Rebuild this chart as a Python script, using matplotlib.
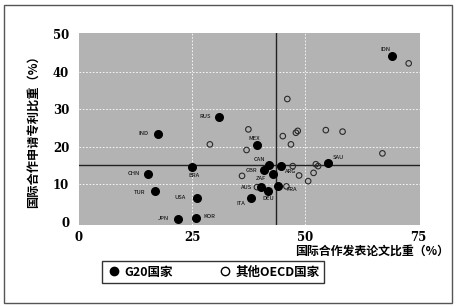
import matplotlib
matplotlib.use("Agg")
import matplotlib.pyplot as plt
from matplotlib.lines import Line2D
from matplotlib.patches import Rectangle

plt.rcParams['font.family'] = ['Noto Sans CJK SC', 'DejaVu Sans']

# G20 countries: (paper share %, patent share %)
g20_names = ["IDN", "RUS", "IND", "MEX", "CAN", "ARG", "SAU", "BRA", "CHN", "GBR",
             "ZAF", "TUR", "FRA", "AUS", "DEU", "USA", "ITA", "JPN", "KOR"]
g20_x = [69.2, 30.9, 17.5, 39.2, 42.0, 44.5, 54.9, 25.0, 15.2, 40.8,
         42.9, 16.8, 43.9, 40.1, 41.8, 26.0, 37.9, 21.9, 25.8]
g20_y = [44.3, 28.0, 23.4, 20.4, 15.0, 14.8, 15.6, 14.6, 12.8, 13.7,
         12.6, 8.2, 9.6, 9.2, 8.3, 6.4, 6.2, 0.7, 1.1]
# label offsets (points) for each G20 label
lab_dx = [-5, -10, -11, -2, -7, 7, 8, 1, -10, -9, -9, -11, 10, -10, 0, -12, -7, -11, 10]
lab_dy = [4, 0, 0, 5, 4, -4, 4, -6, 0, 0, -3, -1, -3, 0, -6, 0, -4, 0, 1]

# Other OECD countries
oecd_x = [28.9, 37.4, 37.0, 45.0, 46.0, 47.9, 48.3, 46.8, 54.5, 58.2, 67.0, 72.8,
          47.2, 52.3, 52.8, 48.6, 51.8, 50.6, 36.0, 45.8, 39.3]
oecd_y = [20.6, 24.6, 19.1, 22.8, 32.7, 23.7, 24.2, 20.6, 24.4, 24.0, 18.2, 42.2,
          14.8, 15.3, 14.8, 12.3, 13.0, 10.8, 12.2, 9.4, 9.2]

ref_x = 43.6
ref_y = 15.0

xticks = [0, 25, 50, 75]
yticks = [0, 10, 20, 30, 40, 50]

fig = plt.figure(figsize=(4.6, 3.07), dpi=100)
fig.patch.set_facecolor('white')
fig.add_artist(Rectangle((4/460, 1-303/307), 448/460, 298/307, transform=fig.transFigure,
                         fill=False, edgecolor='#555555', linewidth=1.0))

ax = fig.add_axes([79/460, 1-225/307, 341/460, 192/307])
ax.set_facecolor('#b3b3b3')
ax.set_xlim(0, 75.3)
ax.set_ylim(-0.9, 50.3)
for s in ax.spines.values():
    s.set_visible(False)

for gx in [25, 50]:
    ax.axvline(gx, color='white', lw=0.6, ls=(0, (2, 2)), zorder=1)
for gy in [10, 20, 30, 40]:
    ax.axhline(gy, color='white', lw=0.6, ls=(0, (2, 2)), zorder=1)

ax.axvline(ref_x, color='#222222', lw=1.0, zorder=2)
ax.axhline(ref_y, color='#222222', lw=1.0, zorder=2)

ax.scatter(oecd_x, oecd_y, s=16, facecolors='none', edgecolors='#2a2a2a', linewidths=0.8, zorder=3)
ax.scatter(g20_x, g20_y, s=30, color='black', zorder=4)
for n, x, y, dx, dy in zip(g20_names, g20_x, g20_y, lab_dx, lab_dy):
    ax.annotate(n, (x, y), xytext=(dx, dy), textcoords='offset points',
                ha='center', va='center', fontsize=4.2, color='black', zorder=5)

ax.set_xticks(xticks)
ax.set_yticks(yticks)
ax.tick_params(length=0, labelsize=8.5, pad=4)
ax.tick_params(axis='y', pad=7)
for t in ax.get_xticklabels() + ax.get_yticklabels():
    t.set_fontweight('bold')
    t.set_family(['DejaVu Serif'])

fig.text(449/460, 1-251/307, '国际合作发表论文比重（%）', ha='right', va='center',
         fontsize=8.6, fontweight='bold')
fig.text(33/460, 1-129/307, '国际合作申请专利比重（%）', ha='center', va='center',
         rotation=90, fontsize=8.8, fontweight='bold')

handles = [Line2D([], [], marker='o', ls='none', color='black', markersize=6),
           Line2D([], [], marker='o', ls='none', markerfacecolor='none',
                  markeredgecolor='black', markersize=6)]
leg = fig.legend(handles, ['G20国家', '其他OECD国家'], ncol=2, loc='center',
                 bbox_to_anchor=(213/460, 1-272/307), frameon=True, fancybox=False,
                 edgecolor='black', handletextpad=0.3, columnspacing=3.5,
                 prop={'size': 9, 'weight': 'bold'}, borderpad=0.35, handlelength=1.2)
leg.get_frame().set_linewidth(1.0)

fig.savefig('out.png', dpi=100)
